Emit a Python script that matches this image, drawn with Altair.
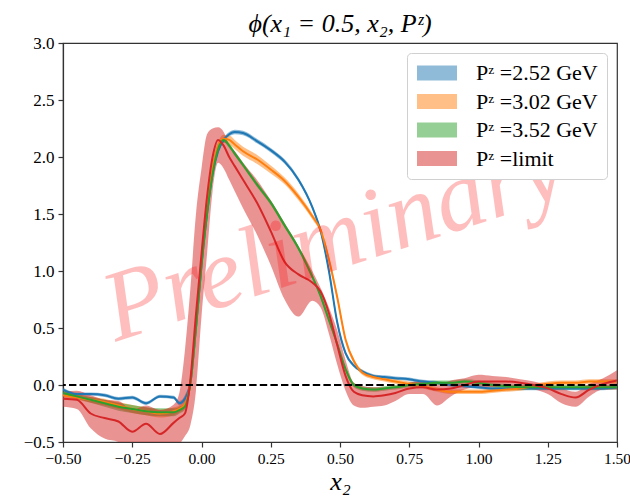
import altair as alt
import pandas as pd

# ---------------- data ----------------
X = [-0.50, -0.45, -0.40, -0.35, -0.30, -0.25, -0.20, -0.15, -0.10, -0.08,
     -0.06, -0.04, -0.02, 0.00, 0.02, 0.04, 0.06, 0.08, 0.10, 0.12,
     0.15, 0.20, 0.25, 0.30, 0.35, 0.40, 0.43, 0.46, 0.49, 0.52,
     0.55, 0.58, 0.62, 0.66, 0.70, 0.75, 0.80, 0.85, 0.90, 0.95,
     1.00, 1.05, 1.10, 1.15, 1.20, 1.25, 1.30, 1.35, 1.40, 1.45, 1.50]

SERIES = ["Pᶻ =2.52 GeV", "Pᶻ =3.02 GeV", "Pᶻ =3.52 GeV", "Pᶻ =limit"]
COLORS = ["#1f77b4", "#ff7f0e", "#2ca02c", "#d62728"]

blue = [-0.04, -0.08, -0.08, -0.09, -0.12, -0.11, -0.16, -0.10, -0.11, -0.16,
        -0.12, 0.02, 0.50, 1.05, 1.50, 1.85, 2.05, 2.15, 2.20, 2.22,
        2.21, 2.14, 2.06, 1.96, 1.80, 1.56, 1.35, 1.00, 0.55, 0.28,
        0.17, 0.12, 0.08, 0.07, 0.06, 0.05, 0.03, 0.02, 0.00, -0.01,
        -0.02, -0.03, -0.03, -0.03, -0.03, -0.03, -0.03, -0.03, -0.03, -0.03, -0.02]
blue_err = [0.015, 0.015, 0.015, 0.015, 0.015, 0.015, 0.015, 0.015, 0.015, 0.02,
            0.03, 0.05, 0.05, 0.05, 0.04, 0.03, 0.02, 0.02, 0.02, 0.02,
            0.02, 0.02, 0.02, 0.02, 0.02, 0.02, 0.02, 0.03, 0.03, 0.02,
            0.015, 0.015, 0.015, 0.015, 0.015, 0.015, 0.015, 0.015, 0.015, 0.015,
            0.015, 0.015, 0.015, 0.015, 0.015, 0.015, 0.015, 0.015, 0.015, 0.015, 0.015]

orange = [-0.09, -0.11, -0.13, -0.15, -0.18, -0.21, -0.23, -0.25, -0.23, -0.21,
          -0.17, 0.02, 0.52, 1.08, 1.55, 1.90, 2.10, 2.16, 2.15, 2.11,
          2.05, 1.98, 1.89, 1.79, 1.65, 1.48, 1.36, 1.10, 0.77, 0.40,
          0.21, 0.11, 0.07, 0.05, 0.03, 0.01, -0.01, -0.04, -0.06, -0.06,
          -0.06, -0.05, -0.04, -0.03, -0.01, 0.01, 0.02, 0.02, 0.03, 0.03, 0.03]
orange_err = [0.02, 0.02, 0.025, 0.03, 0.03, 0.035, 0.035, 0.035, 0.035, 0.03,
              0.03, 0.05, 0.05, 0.05, 0.04, 0.03, 0.03, 0.035, 0.04, 0.04,
              0.04, 0.04, 0.035, 0.03, 0.03, 0.025, 0.025, 0.03, 0.03, 0.02,
              0.02, 0.02, 0.02, 0.02, 0.02, 0.02, 0.02, 0.02, 0.02, 0.02,
              0.02, 0.02, 0.02, 0.02, 0.02, 0.02, 0.02, 0.02, 0.02, 0.02, 0.02]

green = [-0.07, -0.10, -0.13, -0.16, -0.19, -0.21, -0.23, -0.24, -0.24, -0.22,
         -0.19, 0.02, 0.50, 1.05, 1.50, 1.85, 2.07, 2.15, 2.10, 2.03,
         1.93, 1.76, 1.60, 1.40, 1.20, 0.95, 0.78, 0.57, 0.36, 0.14,
         0.00, -0.03, -0.04, -0.03, -0.02, 0.00, 0.01, 0.02, 0.02, 0.03,
         0.02, 0.00, -0.01, -0.02, -0.02, -0.02, -0.02, -0.02, -0.02, -0.02, -0.02]
green_err = [0.02, 0.02, 0.025, 0.03, 0.035, 0.035, 0.035, 0.035, 0.035, 0.03,
             0.03, 0.05, 0.05, 0.05, 0.04, 0.03, 0.02, 0.02, 0.02, 0.02,
             0.02, 0.02, 0.02, 0.02, 0.02, 0.02, 0.02, 0.02, 0.02, 0.02,
             0.02, 0.02, 0.02, 0.02, 0.02, 0.02, 0.02, 0.02, 0.02, 0.02,
             0.02, 0.02, 0.02, 0.02, 0.02, 0.02, 0.02, 0.02, 0.02, 0.02, 0.02]

red = [-0.12, -0.13, -0.25, -0.29, -0.32, -0.41, -0.34, -0.43, -0.33, -0.29,
       -0.25, 0.05, 0.62, 1.15, 1.65, 2.00, 2.15, 2.10, 2.00, 1.92,
       1.80, 1.60, 1.35, 1.08, 0.97, 0.90, 0.82, 0.63, 0.35, 0.08,
       -0.06, -0.09, -0.10, -0.09, -0.07, -0.03, -0.02, -0.04, -0.03, 0.00,
       0.03, 0.03, 0.03, 0.02, 0.00, -0.03, -0.08, -0.11, -0.04, 0.01, 0.04]
red_lo = [-0.19, -0.21, -0.38, -0.47, -0.50, -0.62, -0.55, -0.65, -0.58, -0.52,
          -0.45, -0.35, -0.05, 0.60, 1.15, 1.70, 1.95, 1.90, 1.80, 1.70,
          1.55, 1.32, 1.05, 0.75, 0.60, 0.74, 0.68, 0.45, 0.18, -0.05,
          -0.18, -0.20, -0.19, -0.18, -0.14, -0.08, -0.08, -0.18, -0.10, -0.04,
          -0.02, -0.02, -0.01, -0.02, -0.04, -0.08, -0.16, -0.19, -0.10, -0.04, -0.04]
red_hi = [-0.06, -0.05, -0.09, -0.13, -0.14, -0.22, -0.18, -0.22, -0.17, -0.07,
          0.30, 0.85, 1.50, 1.90, 2.20, 2.25, 2.26, 2.22, 2.10, 2.05,
          1.95, 1.80, 1.62, 1.42, 1.22, 1.00, 0.85, 0.68, 0.48, 0.22,
          0.02, -0.01, -0.02, -0.02, -0.01, 0.02, 0.04, 0.00, 0.04, 0.06,
          0.09, 0.08, 0.07, 0.05, 0.03, 0.00, -0.03, -0.06, 0.01, 0.06, 0.13]

WM_X = [0.48]
WM_Y = [1.28]
WM_TEXT = ["Preliminary"]

X_TICKS = [-0.5, -0.25, 0.0, 0.25, 0.5, 0.75, 1.0, 1.25, 1.5]
Y_TICKS = [-0.5, 0.0, 0.5, 1.0, 1.5, 2.0, 2.5, 3.0]

# ---------------- table ----------------
rows = []
for name, ys, errs in [(SERIES[0], blue, blue_err), (SERIES[1], orange, orange_err),
                       (SERIES[2], green, green_err)]:
    for i, xv in enumerate(X):
        rows.append({"x": xv, "y": ys[i], "lo": ys[i] - errs[i], "hi": ys[i] + errs[i],
                     "series": name, "order": SERIES.index(name)})
for i, xv in enumerate(X):
    rows.append({"x": xv, "y": red[i], "lo": red_lo[i], "hi": red_hi[i],
                 "series": SERIES[3], "order": 3})
df = pd.DataFrame(rows)

SERIF = "Liberation Serif"

xs = alt.Scale(domain=[-0.5, 1.5], nice=False, zero=False)
ys_ = alt.Scale(domain=[-0.5, 3.0], nice=False, zero=False)
cscale = alt.Scale(domain=SERIES, range=COLORS)

x_axis = alt.Axis(values=X_TICKS, format=".2f", title="x₂", labelFlush=False,
                  labelOverlap=False, grid=False, labelFontSize=15.5)
y_axis = alt.Axis(values=Y_TICKS, format=".1f", title=None, labelFlush=False,
                  labelOverlap=False, grid=False)

base = alt.Chart(df)

band = base.mark_area(opacity=0.5, interpolate="monotone", clip=True).encode(
    x=alt.X("x:Q", scale=xs, axis=x_axis),
    y=alt.Y("lo:Q", scale=ys_, axis=y_axis),
    y2="hi:Q",
    color=alt.Color("series:N", scale=cscale, sort=SERIES, legend=alt.Legend(
        title=None, orient="top-right", offset=10,
        symbolType="M-1,-0.75L3,-0.75L3,0.75L-1,0.75Z", symbolSize=400,
        symbolStrokeWidth=0, symbolOpacity=0.5,
        labelFont=SERIF, labelFontSize=22, labelColor="black", labelOffset=38,
        labelLimit=300,
        padding=9, rowPadding=6.5, fillColor="white", strokeColor="#d0d0d0",
        cornerRadius=4)),
    detail="order:O",
)

lines = base.mark_line(strokeWidth=2, interpolate="monotone", clip=True).encode(
    x=alt.X("x:Q", scale=xs),
    y=alt.Y("y:Q", scale=ys_),
    color=alt.Color("series:N", scale=cscale, legend=None),
    order="order:O",
)

zero = alt.Chart(pd.DataFrame({"y": [0.0]})).mark_rule(
    color="black", strokeWidth=2, strokeDash=[7.4, 3.2]).encode(
    y=alt.Y("y:Q", scale=ys_))

wm = alt.Chart(pd.DataFrame({"x": WM_X, "y": WM_Y, "t": WM_TEXT})).mark_text(
    font=SERIF, fontStyle="italic", fontSize=100, color="#ff0000", opacity=0.25,
    angle=342, align="center", baseline="middle").encode(
    x=alt.X("x:Q", scale=xs), y=alt.Y("y:Q", scale=ys_), text="t:N")

chart = alt.layer(band, lines, zero, wm).properties(
    width=554, height=399,
    title=alt.TitleParams("ϕ(x₁ = 0.5, x₂, Pᶻ)", font=SERIF, fontSize=26,
                          fontWeight="normal", fontStyle="italic", color="black",
                          anchor="middle", offset=-3),
    autosize=alt.AutoSizeParams(type="none"),
    padding={"left": 63, "top": 43, "right": 13, "bottom": 57},
    background="white",
).configure_view(stroke="#333333", strokeWidth=1.2).configure_axis(
    labelFont=SERIF, labelFontSize=17, labelColor="black",
    domainColor="#333333", domainWidth=1.2, tickColor="#333333", tickWidth=1.2,
    tickSize=5, labelPadding=4,
    titleFont=SERIF, titleFontSize=26, titleFontStyle="italic", titleFontWeight="normal",
    titleColor="black", titlePadding=2,
)

chart.save("out.html", embed_options={"renderer": "svg", "actions": False})
